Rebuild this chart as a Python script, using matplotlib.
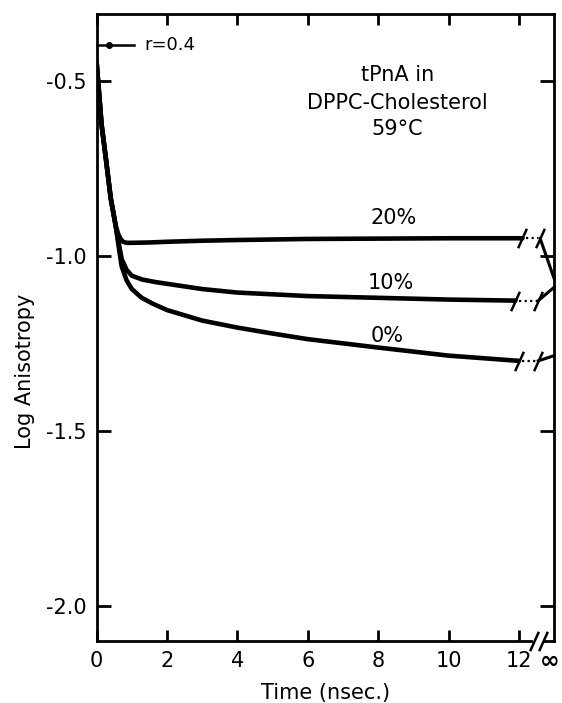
import matplotlib
matplotlib.use("Agg")
import matplotlib.pyplot as plt

# values (time in nsec, log anisotropy)
t_20 = [0.0, 0.14, 0.26, 0.40, 0.54, 0.62, 0.68, 0.75, 0.85, 1.0, 1.5, 2, 3, 4, 6, 8, 10, 12.1]
y_20 = [-0.45, -0.626, -0.721, -0.836, -0.914, -0.94, -0.952, -0.96, -0.963, -0.963, -0.962,
        -0.96, -0.957, -0.955, -0.952, -0.951, -0.95, -0.95]

t_10 = [0.0, 0.14, 0.26, 0.40, 0.54, 0.62, 0.71, 0.85, 1.0, 1.3, 1.67, 2, 3, 4, 6, 8, 10, 11.9]
y_10 = [-0.45, -0.626, -0.721, -0.836, -0.914, -0.96, -1.009, -1.04, -1.057, -1.068, -1.075,
        -1.08, -1.095, -1.105, -1.115, -1.12, -1.125, -1.128]

t_0 = [0.0, 0.14, 0.26, 0.40, 0.54, 0.62, 0.71, 0.85, 1.0, 1.28, 1.6, 2, 3, 4, 5, 6, 8, 10, 12.0]
y_0 = [-0.45, -0.626, -0.721, -0.836, -0.914, -0.97, -1.03, -1.07, -1.095, -1.12, -1.137,
       -1.155, -1.185, -1.205, -1.222, -1.238, -1.262, -1.285, -1.30]

# second break mark and value at infinite time
t_brk = [12.6, 12.55, 12.55]
y_inf = [-1.065, -1.09, -1.285]
labels = ["20%", "10%", "0%"]
label_pos = [(8.45, -0.893), (8.37, -1.078), (8.25, -1.228)]

r0 = 0.4
x_ticks = [0, 2, 4, 6, 8, 10, 12]
y_ticks = [-0.5, -1.0, -1.5, -2.0]

plt.rcParams['font.family'] = ['DejaVu Sans']
fig = plt.figure(figsize=(5.62, 7.03), dpi=100)
ax = fig.add_axes([0.172, 0.088, 0.814, 0.892])
ax.set_xlim(0, 13)
ax.set_ylim(-2.10, -0.31)

slash = [(-0.45, -1.0), (0.45, 1.0)]
series = [(t_20, y_20), (t_10, y_10), (t_0, y_0)]
for (t, y), tb, yi in zip(series, t_brk, y_inf):
    ax.plot(t, y, color='black', lw=3.3, solid_capstyle='round', solid_joinstyle='round')
    # break in the curve: slash, dots, slash, then line to infinity
    ax.plot([t[-1]], [y[-1]], marker=slash, ms=14, mew=1.8, color='black')
    ax.plot([t[-1] + 0.1, tb - 0.05], [y[-1], y[-1]], color='black', lw=1.6, ls=(0, (1, 1.5)))
    ax.plot([tb], [y[-1]], marker=slash, ms=14, mew=1.8, color='black')
    ax.plot([tb, 13], [y[-1], yi], color='black', lw=2.2, clip_on=False)

for lab, (lx, ly) in zip(labels, label_pos):
    ax.text(lx, ly, lab, fontsize=15, ha='center', va='center')

# initial anisotropy marker
ax.plot([0, 1.05], [-0.398, -0.398], color='black', lw=1.8, clip_on=False)
ax.plot([0.35], [-0.398], marker='o', ms=4, color='black')
ax.text(1.35, -0.398, "r=0.4", fontsize=13, va='center', ha='left')

ax.text(8.55, -0.483, "tPnA in", fontsize=15, ha='center', va='center')
ax.text(8.55, -0.563, "DPPC-Cholesterol", fontsize=15, ha='center', va='center')
ax.text(8.55, -0.637, "59°C", fontsize=15, ha='center', va='center')

# axes styling
for s in ax.spines.values():
    s.set_linewidth(2.0)
ax.spines['bottom'].set_bounds(0, 12.35)
ax.plot([12.72, 13], [-2.10, -2.10], color='black', lw=2.0, clip_on=False)
ax.plot([12.42], [-2.10], marker=slash, ms=14, mew=1.8, color='black', clip_on=False)
ax.plot([12.67], [-2.10], marker=slash, ms=14, mew=1.8, color='black', clip_on=False)

ax.set_xticks(x_ticks)
ax.set_xticklabels([str(v) for v in x_ticks], fontsize=15)
ax.set_yticks(y_ticks)
ax.set_yticklabels([f"{v:.1f}" for v in y_ticks], fontsize=15)
ax.tick_params(axis='x', direction='in', length=8, width=2, top=True, pad=7)
ax.tick_params(axis='y', direction='in', length=10, width=2, right=True, pad=7)
ax.annotate("∞", (12.86, -2.10), xytext=(0, -6), textcoords='offset points',
            fontsize=17, fontweight='bold', ha='center', va='top', annotation_clip=False)

ax.set_xlabel("Time (nsec.)", fontsize=15, labelpad=9)
ax.set_ylabel("Log Anisotropy", fontsize=15, labelpad=8)
ax.yaxis.set_label_coords(-0.135, 0.43)

fig.savefig("out.png", dpi=100)
